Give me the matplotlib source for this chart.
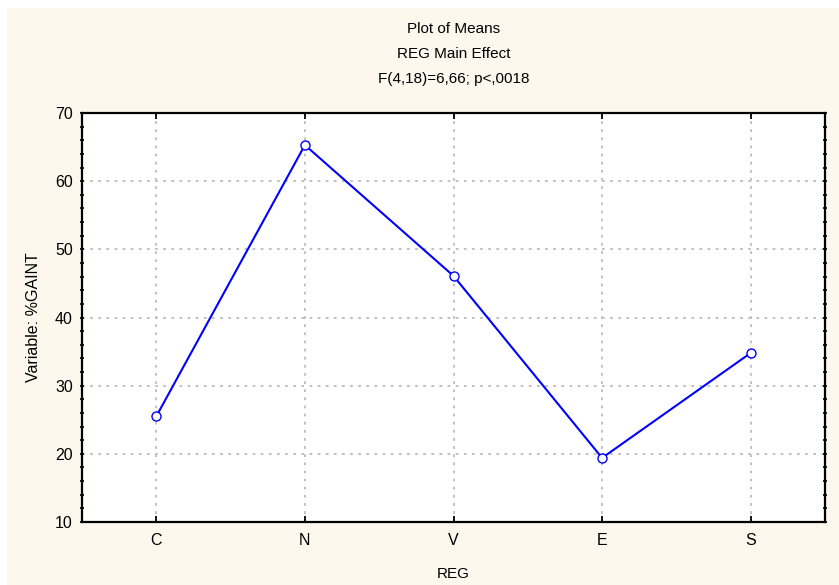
import matplotlib
matplotlib.use("Agg")
import matplotlib.pyplot as plt
from matplotlib.patches import Rectangle
from matplotlib.ticker import MultipleLocator

plt.rcParams['font.family'] = ['Liberation Sans', 'DejaVu Sans']

# data
regions = ['C', 'N', 'V', 'E', 'S']
means = [25.5, 65.3, 46.1, 19.4, 34.8]
title_lines = ['Plot of Means', 'REG Main Effect', 'F(4,18)=6,66; p<,0018']

W, H = 839, 585
fig = plt.figure(figsize=(W / 100, H / 100), dpi=100, facecolor='white')

# cream panel behind everything (thin white border at left/top)
fig.patches.append(Rectangle((7 / W, 0), 1 - 7 / W, 1 - 8 / H, transform=fig.transFigure,
                             facecolor='#FDF8EE', edgecolor='none', zorder=-10))

ax = fig.add_axes([82 / W, 1 - 522 / H, (825 - 82) / W, (522 - 113) / H])
ax.set_facecolor('white')

x = list(range(len(regions)))
ax.plot(x, means, color='#0000FF', lw=1.5, marker='o', ms=6.5,
        mfc='white', mec='#0000FF', mew=1.0, zorder=3)

ax.set_xlim(-0.5, len(regions) - 0.5)
ax.set_ylim(10, 70)
ax.set_xticks(x)
ax.set_xticklabels(regions)
ax.yaxis.set_major_locator(MultipleLocator(10))
ax.yaxis.set_minor_locator(MultipleLocator(2))

ax.grid(True, which='major', color='#bcbcbc', linestyle=(0, (1.5, 3)), lw=1.3)
ax.tick_params(axis='x', which='major', direction='in', length=4, width=1.3,
               top=True, labelsize=11.5, pad=8)
ax.tick_params(axis='y', which='both', direction='inout', length=3, width=1.2,
               right=True, labelsize=11.5, pad=5)

for s in ax.spines.values():
    s.set_linewidth(1.6)

ax.set_xlabel('REG', fontsize=11)
ax.set_ylabel('Variable: %GAINT', fontsize=11.5)
ax.xaxis.set_label_coords(0.5, (522 - 567) / 409)
ax.yaxis.set_label_coords((41 - 82) / 743, 0.5)

cx = (82 + 825) / 2 / W
for i, t in enumerate(title_lines):
    fig.text(cx, 1 - (29 + 25 * i) / H, t, ha='center', va='center', fontsize=11)

fig.savefig('out.png', dpi=100, facecolor=fig.get_facecolor())
